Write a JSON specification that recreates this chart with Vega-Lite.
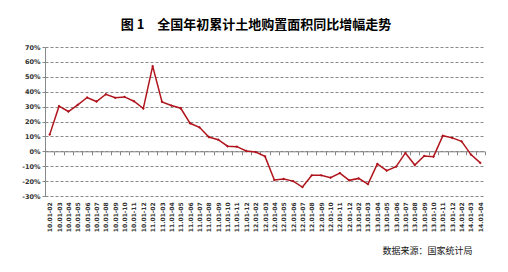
{
  "$schema": "https://vega.github.io/schema/vega-lite/v6.json",
  "width": 440,
  "height": 149,
  "autosize": {"type": "none"},
  "padding": {"left": 45, "top": 47, "right": 23, "bottom": 76},
  "background": "white",
  "config": {"view": {"stroke": null}},
  "title": {
    "text": "图 1　全国年初累计土地购置面积同比增幅走势",
    "font": "Noto Sans CJK SC",
    "fontSize": 13,
    "fontWeight": "bold",
    "color": "#000000",
    "anchor": "middle",
    "offset": 12,
    "dx": -9
  },
  "data": {
    "values": [
      {"d": "10.01-02", "v": 11.2},
      {"d": "10.01-03", "v": 30.3},
      {"d": "10.01-04", "v": 26.7},
      {"d": "10.01-05", "v": 31.2},
      {"d": "10.01-06", "v": 36.1},
      {"d": "10.01-07", "v": 33.4},
      {"d": "10.01-08", "v": 38.3},
      {"d": "10.01-09", "v": 35.9},
      {"d": "10.01-10", "v": 36.5},
      {"d": "10.01-11", "v": 33.6},
      {"d": "10.01-12", "v": 28.7},
      {"d": "11.01-02", "v": 57.2},
      {"d": "11.01-03", "v": 33.2},
      {"d": "11.01-04", "v": 30.7},
      {"d": "11.01-05", "v": 28.9},
      {"d": "11.01-06", "v": 18.8},
      {"d": "11.01-07", "v": 16.1},
      {"d": "11.01-08", "v": 9.6},
      {"d": "11.01-09", "v": 7.8},
      {"d": "11.01-10", "v": 3.4},
      {"d": "11.01-11", "v": 3.1},
      {"d": "11.01-12", "v": 0.2},
      {"d": "12.01-02", "v": -0.5},
      {"d": "12.01-03", "v": -3.4},
      {"d": "12.01-04", "v": -19.3},
      {"d": "12.01-05", "v": -18.6},
      {"d": "12.01-06", "v": -20.0},
      {"d": "12.01-07", "v": -24.0},
      {"d": "12.01-08", "v": -16.1},
      {"d": "12.01-09", "v": -16.1},
      {"d": "12.01-10", "v": -17.7},
      {"d": "12.01-11", "v": -14.6},
      {"d": "12.01-12", "v": -19.5},
      {"d": "13.01-02", "v": -18.2},
      {"d": "13.01-03", "v": -22.0},
      {"d": "13.01-04", "v": -8.5},
      {"d": "13.01-05", "v": -13.0},
      {"d": "13.01-06", "v": -10.3},
      {"d": "13.01-07", "v": -1.1},
      {"d": "13.01-08", "v": -9.2},
      {"d": "13.01-09", "v": -3.1},
      {"d": "13.01-10", "v": -3.6},
      {"d": "13.01-11", "v": 10.5},
      {"d": "13.01-12", "v": 9.0},
      {"d": "14.01-02", "v": 6.7},
      {"d": "14.01-03", "v": -2.2},
      {"d": "14.01-04", "v": -7.8}
    ]
  },
  "mark": {
    "type": "line",
    "color": "#B0141C",
    "strokeWidth": 1.5,
    "point": {"filled": true, "size": 8, "shape": "diamond", "color": "#B0141C"}
  },
  "encoding": {
    "x": {
      "field": "d",
      "type": "ordinal",
      "sort": null,
      "bandPosition": 0.5,
      "scale": {"type": "band", "paddingInner": 0, "paddingOuter": 0},
      "axis": {
        "orient": "bottom",
        "offset": -44.7,
        "domainColor": "#888888",
        "domainWidth": 1,
        "tickColor": "#888888",
        "tickSize": 3.5,
        "tickBand": "extent",
        "labelAngle": -90,
        "labelPadding": 47,
        "labelFont": "DejaVu Sans",
        "labelFontSize": 6,
        "labelFontWeight": "bold",
        "labelColor": "#333333",
        "labelOverlap": false,
        "grid": false,
        "title": "数据来源：国家统计局",
        "titleFont": "Noto Sans CJK SC",
        "titleFontSize": 9,
        "titleFontWeight": "normal",
        "titleColor": "#111111",
        "titleAnchor": "end",
        "titleAlign": "right",
        "titleX": 427,
        "titlePadding": 15
      }
    },
    "y": {
      "field": "v",
      "type": "quantitative",
      "scale": {"domain": [-30, 70], "nice": false},
      "axis": {
        "values": [-30, -20, -10, 0, 10, 20, 30, 40, 50, 60, 70],
        "labelExpr": "datum.value + '%'",
        "domainColor": "#888888",
        "tickColor": "#888888",
        "tickSize": 3,
        "grid": true,
        "gridColor": "#888888",
        "gridDash": [3, 2],
        "gridWidth": 1,
        "labelFont": "DejaVu Sans",
        "labelFontSize": 6.5,
        "labelFontWeight": "bold",
        "labelColor": "#333333",
        "labelPadding": 2,
        "title": null
      }
    }
  }
}
